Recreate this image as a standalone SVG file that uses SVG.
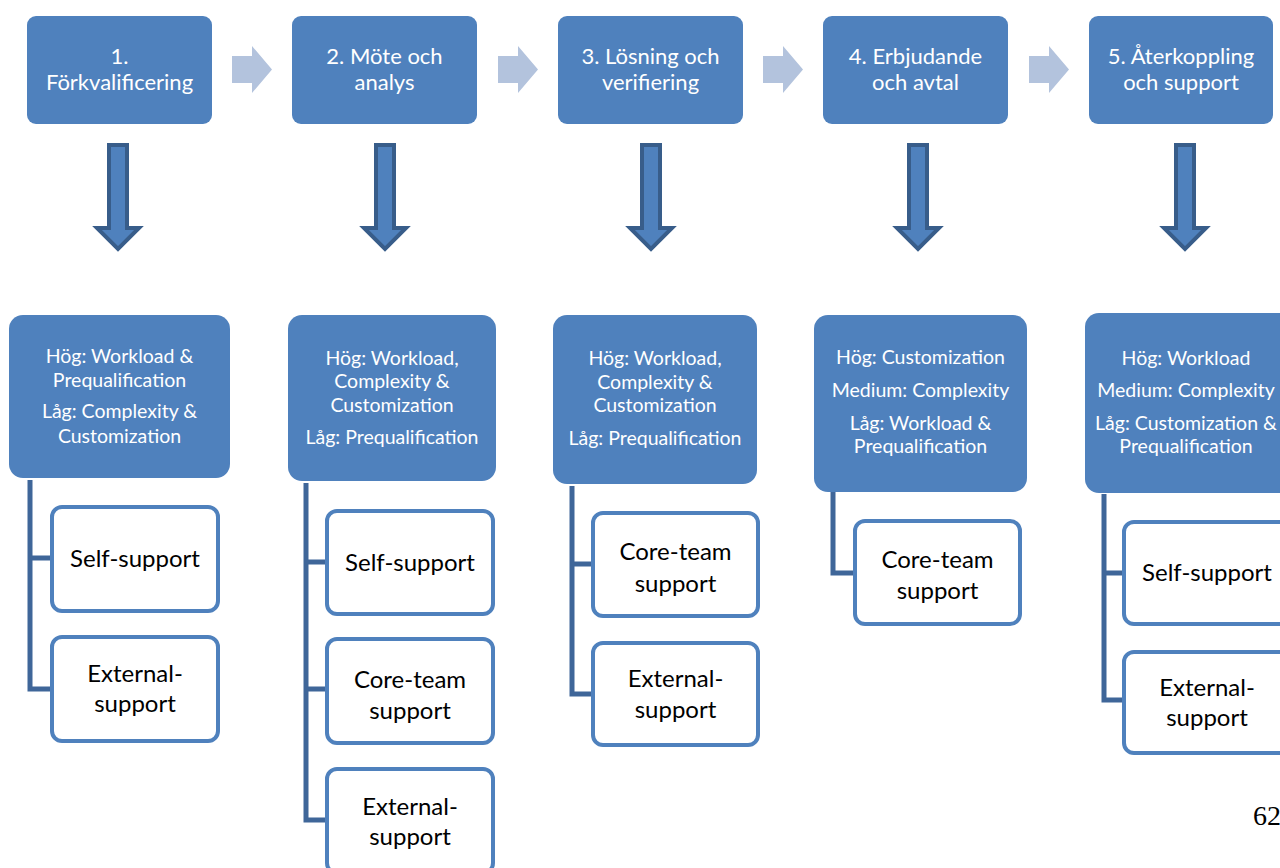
<svg xmlns="http://www.w3.org/2000/svg" width="1280" height="868" viewBox="0 0 1280 868">
<defs>
<style>
.top{fill:#4F81BD;}
.tt{fill:#fff;font-family:Lato,"Liberation Sans",sans-serif;font-size:22px;text-anchor:middle;}
.lt{fill:#fff;font-family:Lato,"Liberation Sans",sans-serif;font-size:19.5px;text-anchor:middle;}
.ch{fill:#fff;stroke:#4F81BD;stroke-width:4;}
.ct{fill:#000;font-family:Lato,"Liberation Sans",sans-serif;font-size:24px;text-anchor:middle;}
.ra{fill:#B3C3DD;}
.da{fill:#4F81BD;stroke:#385D8A;stroke-width:4;stroke-linejoin:miter;}
.cn{fill:none;stroke:#3F6699;stroke-width:5;}
</style>
<path id="rarr" d="M0,10 H20 V0 L40,23.5 L20,47 V37 H0 Z"/>
<path id="darr" d="M-9,2 H9 V85 H21 L0,106 L-21,85 H-9 Z"/>
</defs>
<rect width="1280" height="868" fill="#fff"/>

<g id="flow-arrows">
<use href="#rarr" class="ra" x="232" y="46"/>
<use href="#rarr" class="ra" x="498" y="46"/>
<use href="#rarr" class="ra" x="763" y="46"/>
<use href="#rarr" class="ra" x="1029" y="46"/>
<use href="#darr" class="da" x="118" y="143"/>
<use href="#darr" class="da" x="385" y="143"/>
<use href="#darr" class="da" x="651" y="143"/>
<use href="#darr" class="da" x="918" y="143"/>
<use href="#darr" class="da" x="1185" y="143"/>
</g>

<g id="connectors">
<path class="cn" d="M30,480 V689 H52 M30,558 H52"/>
<path class="cn" d="M306,483 V820 H328 M306,562 H328 M306,689 H328"/>
<path class="cn" d="M572,486 V694 H593 M572,564 H593"/>
<path class="cn" d="M833,491 V573 H855"/>
<path class="cn" d="M1104,494 V700 H1124 M1104,573 H1124"/>
</g>

<g id="step1">
<rect class="top" x="27" y="16" width="185" height="108" rx="9"/>
<text class="tt" x="119.5" y="64">1.</text>
<text class="tt" x="119.5" y="90">Förkvalificering</text>
</g>
<g id="step2">
<rect class="top" x="292" y="16" width="185" height="108" rx="9"/>
<text class="tt" x="384.5" y="64">2. Möte och</text>
<text class="tt" x="384.5" y="90">analys</text>
</g>
<g id="step3">
<rect class="top" x="558" y="16" width="185" height="108" rx="9"/>
<text class="tt" x="650.5" y="64">3. Lösning och</text>
<text class="tt" x="650.5" y="90">verifiering</text>
</g>
<g id="step4">
<rect class="top" x="823" y="16" width="185" height="108" rx="9"/>
<text class="tt" x="915.5" y="64">4. Erbjudande</text>
<text class="tt" x="915.5" y="90">och avtal</text>
</g>
<g id="step5">
<rect class="top" x="1089" y="16" width="184" height="108" rx="9"/>
<text class="tt" x="1181" y="64">5. Återkoppling</text>
<text class="tt" x="1181" y="90">och support</text>
</g>

<g id="profile1">
<rect class="top" x="9" y="315" width="221" height="163" rx="14"/>
<text class="lt" x="119.5" y="363">Hög: Workload &amp;</text>
<text class="lt" x="119.5" y="387">Prequalification</text>
<text class="lt" x="119.5" y="418">Låg: Complexity &amp;</text>
<text class="lt" x="119.5" y="443">Customization</text>
</g>
<g id="profile2">
<rect class="top" x="288" y="315" width="208" height="166" rx="14"/>
<text class="lt" x="392" y="365">Hög: Workload,</text>
<text class="lt" x="392" y="388">Complexity &amp;</text>
<text class="lt" x="392" y="412">Customization</text>
<text class="lt" x="392" y="444">Låg: Prequalification</text>
</g>
<g id="profile3">
<rect class="top" x="553" y="315" width="204" height="169" rx="14"/>
<text class="lt" x="655" y="365">Hög: Workload,</text>
<text class="lt" x="655" y="389">Complexity &amp;</text>
<text class="lt" x="655" y="412">Customization</text>
<text class="lt" x="655" y="445">Låg: Prequalification</text>
</g>
<g id="profile4">
<rect class="top" x="814" y="315" width="213" height="177" rx="14"/>
<text class="lt" x="920.5" y="364">Hög: Customization</text>
<text class="lt" x="920.5" y="397">Medium: Complexity</text>
<text class="lt" x="920.5" y="430">Låg: Workload &amp;</text>
<text class="lt" x="920.5" y="453">Prequalification</text>
</g>
<g id="profile5">
<rect class="top" x="1085" y="313" width="210" height="180" rx="14"/>
<text class="lt" x="1186" y="365">Hög: Workload</text>
<text class="lt" x="1186" y="397">Medium: Complexity</text>
<text class="lt" x="1186" y="430">Låg: Customization &amp;</text>
<text class="lt" x="1186" y="453">Prequalification</text>
</g>

<g id="c1-self">
<rect class="ch" x="52" y="507" width="166" height="104" rx="10"/>
<text class="ct" x="135" y="567">Self-support</text>
</g>
<g id="c1-ext">
<rect class="ch" x="52" y="637" width="166" height="104" rx="10"/>
<text class="ct" x="135" y="682">External-</text>
<text class="ct" x="135" y="712">support</text>
</g>

<g id="c2-self">
<rect class="ch" x="327" y="511" width="166" height="103" rx="10"/>
<text class="ct" x="410" y="571">Self-support</text>
</g>
<g id="c2-core">
<rect class="ch" x="327" y="639" width="166" height="104" rx="10"/>
<text class="ct" x="410" y="688">Core-team</text>
<text class="ct" x="410" y="719">support</text>
</g>
<g id="c2-ext">
<rect class="ch" x="327" y="769" width="166" height="104" rx="10"/>
<text class="ct" x="410" y="815">External-</text>
<text class="ct" x="410" y="845">support</text>
</g>

<g id="c3-core">
<rect class="ch" x="593" y="513" width="165" height="103" rx="10"/>
<text class="ct" x="675.5" y="560">Core-team</text>
<text class="ct" x="675.5" y="592">support</text>
</g>
<g id="c3-ext">
<rect class="ch" x="593" y="643" width="165" height="102" rx="10"/>
<text class="ct" x="675.5" y="687">External-</text>
<text class="ct" x="675.5" y="718">support</text>
</g>

<g id="c4-core">
<rect class="ch" x="855" y="521" width="165" height="103" rx="10"/>
<text class="ct" x="937.5" y="568">Core-team</text>
<text class="ct" x="937.5" y="599">support</text>
</g>

<g id="c5-self">
<rect class="ch" x="1124" y="522" width="170" height="102" rx="10"/>
<text class="ct" x="1207" y="581">Self-support</text>
</g>
<g id="c5-ext">
<rect class="ch" x="1124" y="652" width="170" height="101" rx="10"/>
<text class="ct" x="1207" y="696">External-</text>
<text class="ct" x="1207" y="726">support</text>
</g>

<text x="1253" y="825" font-family="'Liberation Serif',serif" font-size="28" fill="#000">62</text>
</svg>
